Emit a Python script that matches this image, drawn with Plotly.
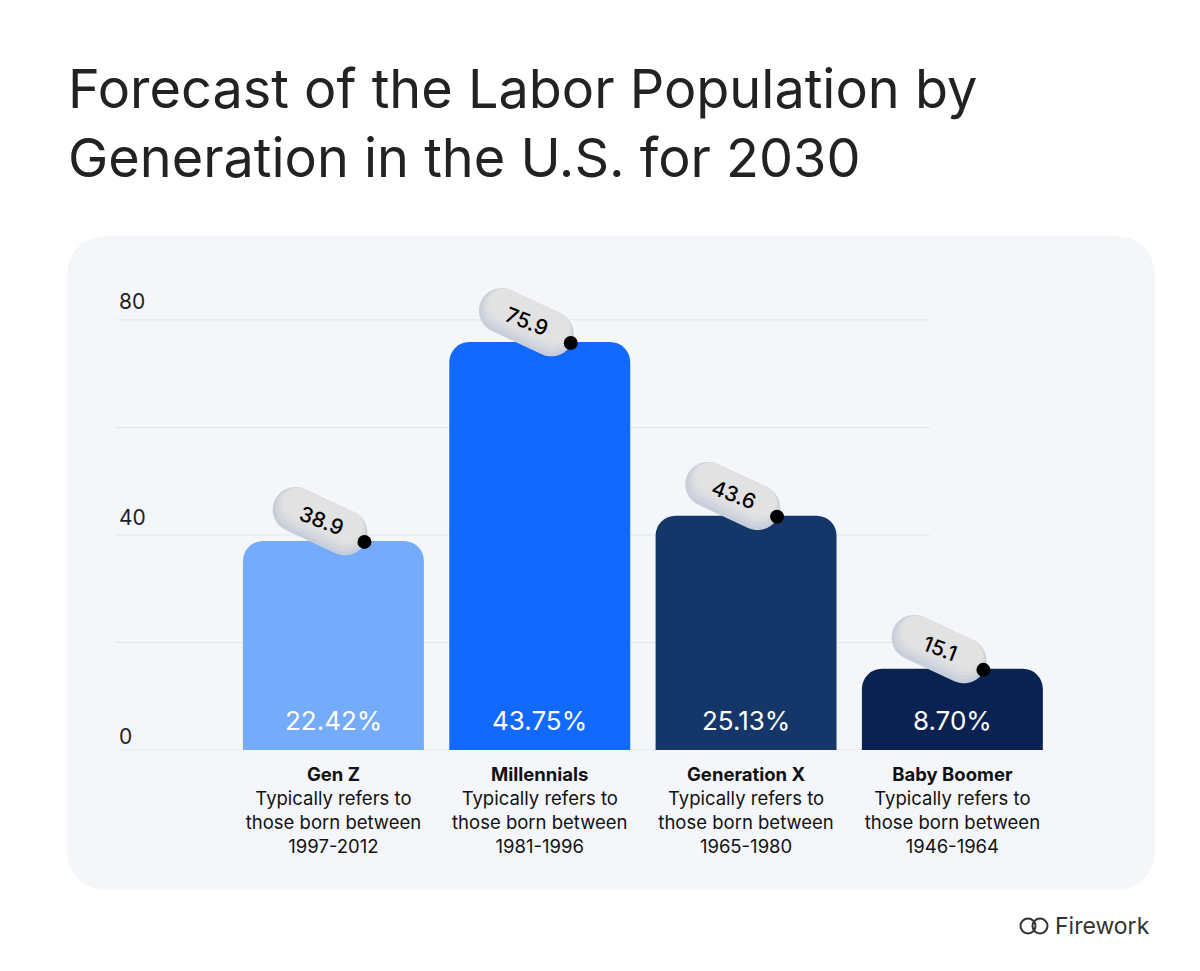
import math
import plotly.graph_objects as go

# ---------------- data ----------------
categories = ["Gen Z", "Millennials", "Generation X", "Baby Boomer"]
workers_millions = [38.9, 75.9, 43.6, 15.1]
share_labels = ["22.42%", "43.75%", "25.13%", "8.70%"]
birth_years = ["1997-2012", "1981-1996", "1965-1980", "1946-1964"]
y_label_values = [0, 40, 80]
grid_values = [0, 20, 40, 60, 80]

# ---------------- style ----------------
W, H = 1200, 971
bar_colors = ["#74ABFB", "#1169FE", "#153668", "#0A2252"]
FONT = "Inter"
TEXT = "#1f1f1f"

x_idx = list(range(len(categories)))

fig = go.Figure()
fig.add_trace(go.Bar(
    x=x_idx, y=workers_millions, width=0.877,
    marker=dict(color=bar_colors, cornerradius=20, line=dict(width=0)),
    hoverinfo="skip",
))

shapes = []

# background panel (pixel coordinates from bottom-left of page)
def rounded_rect(x0, y0, x1, y1, r):
    return (f"M {x0+r},{y0} L {x1-r},{y0} Q {x1},{y0} {x1},{y0+r} "
            f"L {x1},{y1-r} Q {x1},{y1} {x1-r},{y1} L {x0+r},{y1} "
            f"Q {x0},{y1} {x0},{y1-r} L {x0},{y0+r} Q {x0},{y0} {x0+r},{y0} Z")

shapes.append(dict(type="path", xref="paper", yref="paper",
                   xsizemode="pixel", ysizemode="pixel", xanchor=0, yanchor=0,
                   path=rounded_rect(67, H - 890, 1155, H - 236, 44),
                   fillcolor="#F4F6FA", line=dict(width=0), layer="below"))

# gridlines
for g in grid_values:
    shapes.append(dict(type="line", xref="paper", yref="y",
                       x0=116 / W, x1=930 / W, y0=g, y1=g,
                       line=dict(color="#E2E5EA", width=1), layer="below"))

# pills + dots
def pill_path(cx, cy, length=100, width=45, angle_deg=25, n=18):
    r = width / 2
    half = (length - 45) / 2
    a = math.radians(-angle_deg)
    ux, uy = math.cos(a), math.sin(a)
    nx, ny = -uy, ux
    pts = []
    for k in range(n + 1):
        t = -math.pi / 2 + math.pi * k / n
        pts.append((cx + half * ux + r * (math.cos(t) * ux + math.sin(t) * nx),
                    cy + half * uy + r * (math.cos(t) * uy + math.sin(t) * ny)))
    for k in range(n + 1):
        t = math.pi / 2 + math.pi * k / n
        pts.append((cx - half * ux + r * (math.cos(t) * ux + math.sin(t) * nx),
                    cy - half * uy + r * (math.cos(t) * uy + math.sin(t) * ny)))
    return "M " + " L ".join(f"{x:.2f},{y:.2f}" for x, y in pts) + " Z"

DOT_DX, DOT_DY = 31, -1
ANG = 25
PILL_DX = DOT_DX - 49 * math.cos(math.radians(ANG))
PILL_DY = DOT_DY + 49 * math.sin(math.radians(ANG))
NX = math.sin(math.radians(ANG))   # normal pointing "up" of the tilted pill
NY = math.cos(math.radians(ANG))
pill_layers = [(45, "#C8CFDA"), (41, "#D1D5DD"), (37, "#D9DBE0"), (33, "#DFE0E2"), (29, "#E2E2E3")]

annotations = []
for i, v in zip(x_idx, workers_millions):
    for w, col in pill_layers:
        d = (45 - w) / 2
        shapes.append(dict(type="path", xref="x", yref="y",
                           xsizemode="pixel", ysizemode="pixel", xanchor=i, yanchor=v,
                           path=pill_path(PILL_DX + d * NX, PILL_DY + d * NY, width=w, angle_deg=ANG),
                           fillcolor=col, line=dict(width=0), layer="above"))
    shapes.append(dict(type="circle", xref="x", yref="y",
                       xsizemode="pixel", ysizemode="pixel", xanchor=i, yanchor=v,
                       x0=DOT_DX - 7, x1=DOT_DX + 7, y0=DOT_DY - 7, y1=DOT_DY + 7,
                       fillcolor="#000000", line=dict(width=0), layer="above"))
    annotations.append(dict(x=i, y=v, xref="x", yref="y", text=f"{v}",
                            showarrow=False, xshift=PILL_DX + 1, yshift=PILL_DY + 1,
                            textangle=21,
                            font=dict(family=FONT, size=21, color="#000000", weight=500)))

for i, s in zip(x_idx, share_labels):
    annotations.append(dict(x=i, y=0, xref="x", yref="y", text=s, showarrow=False,
                            yanchor="middle", yshift=30,
                            font=dict(family=FONT, size=26, color="#FFFFFF")))

for t in y_label_values:
    annotations.append(dict(x=117 / W, y=t, xref="paper", yref="y", text=str(t),
                            showarrow=False, xanchor="left", yanchor="middle",
                            yshift=(14 if t == 0 else 18),
                            font=dict(family=FONT, size=21, color=TEXT)))

# title
annotations.append(dict(x=66 / W, y=(H - 88) / H, xref="paper", yref="paper",
                        text="Forecast of the Labor Population by", showarrow=False,
                        xanchor="left", yanchor="middle",
                        font=dict(family=FONT, size=54, color="#222222")))
annotations.append(dict(x=66 / W, y=(H - 157) / H, xref="paper", yref="paper",
                        text="Generation in the U.S. for 2030", showarrow=False,
                        xanchor="left", yanchor="middle",
                        font=dict(family=FONT, size=54, color="#222222")))

# logo
annotations.append(dict(x=1053 / W, y=(H - 926) / H, xref="paper", yref="paper",
                        text="Firework", showarrow=False, xanchor="left", yanchor="middle",
                        font=dict(family=FONT, size=23, color="#333333")))
for cx in (1028, 1040):
    shapes.append(dict(type="circle", xref="paper", yref="paper",
                       x0=(cx - 7.5) / W, x1=(cx + 7.5) / W,
                       y0=(H - 926 - 7.5) / H, y1=(H - 926 + 7.5) / H,
                       line=dict(color="#333333", width=2), fillcolor="rgba(0,0,0,0)"))

tick_text = [f"<b>{c}</b><br>Typically refers to<br>those born between<br>{y}"
             for c, y in zip(categories, birth_years)]

fig.update_layout(
    width=W, height=H,
    margin=dict(l=0, r=0, t=0, b=0, autoexpand=False),
    paper_bgcolor="#FFFFFF", plot_bgcolor="rgba(0,0,0,0)",
    showlegend=False,
    shapes=shapes, annotations=annotations,
    xaxis=dict(domain=[116 / W, 1058 / W], range=[-1.054, 3.512],
               tickvals=x_idx, ticktext=tick_text, showgrid=False, zeroline=False,
               showline=False, ticks="", ticklabelstandoff=11,
               tickfont=dict(family=FONT, size=18.5, color="#111111"), fixedrange=True),
    yaxis=dict(domain=[(H - 750) / H, (H - 266.25) / H], range=[0, 90],
               showgrid=False, zeroline=False, showticklabels=False, showline=False,
               fixedrange=True),
    font=dict(family=FONT),
)

fig.write_html("out.html", config={"displayModeBar": False})
